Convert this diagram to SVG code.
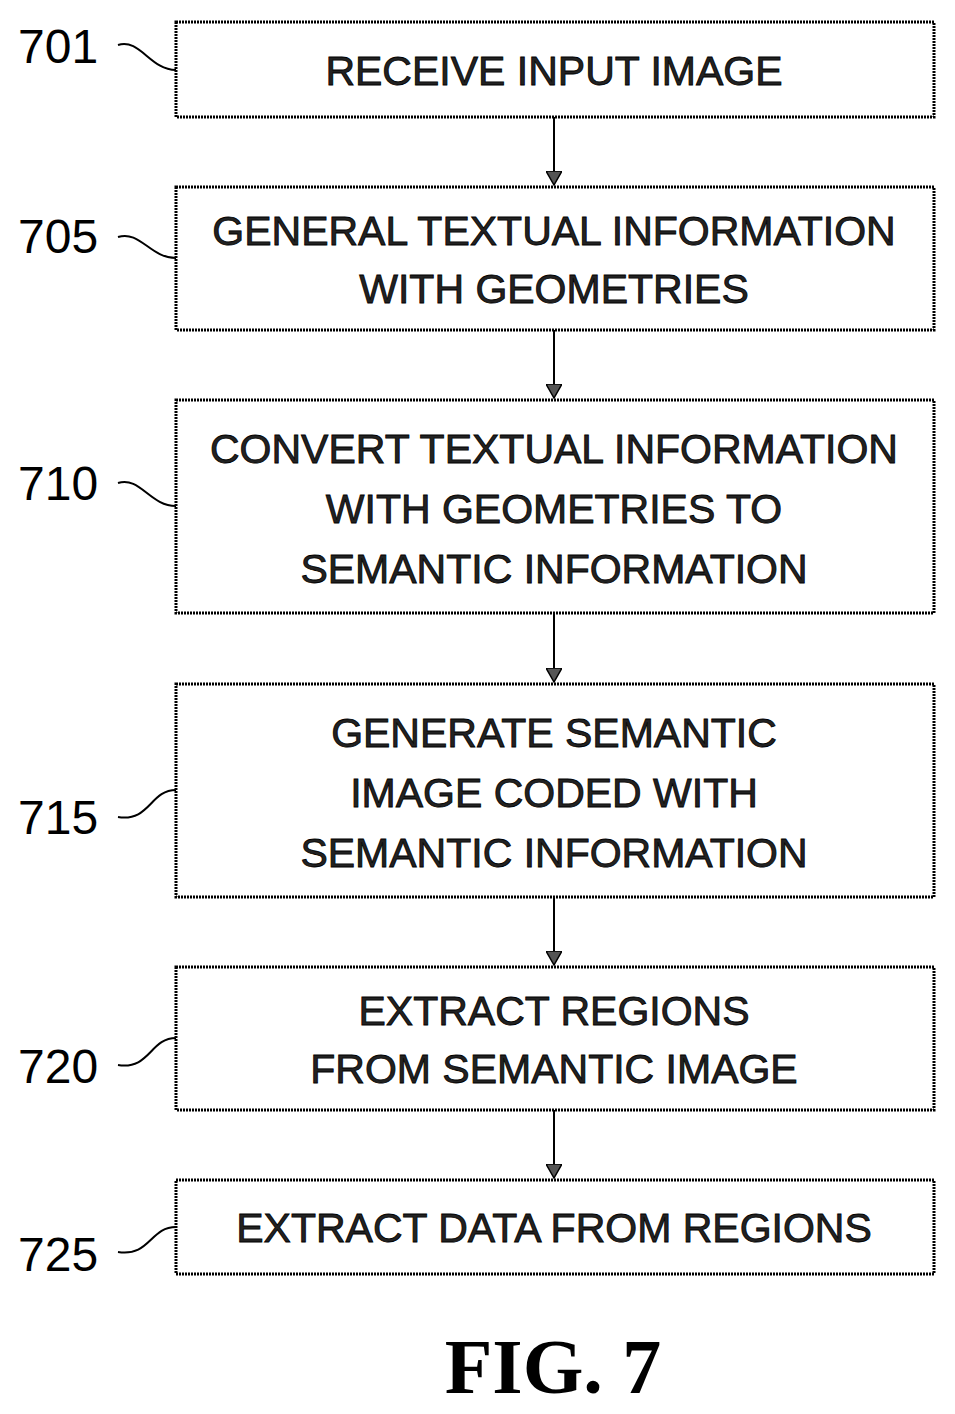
<svg xmlns="http://www.w3.org/2000/svg" width="955" height="1414" viewBox="0 0 955 1414">
<style>
.b{fill:#fff;stroke:#000;stroke-width:3;stroke-dasharray:2 1}
.t{font-family:"Liberation Sans",Arial,sans-serif;font-size:41px;fill:#222;stroke:#000;stroke-width:0.8;text-anchor:middle}
.n{font-family:"Liberation Sans",Arial,sans-serif;font-size:48px;fill:#000;text-anchor:start}
.c{fill:none;stroke:#000;stroke-width:2}
</style>
<defs><marker id="a" markerWidth="16" markerHeight="16" refX="14" refY="8" orient="auto" markerUnits="userSpaceOnUse"><path d="M0,0 L14,8 L0,16 Z" fill="#555" stroke="#000" stroke-width="1.5"/></marker></defs>
<rect width="955" height="1414" fill="#fff"/>
<g id="connectors">
<line class="c" x1="554" y1="117" x2="554" y2="185" marker-end="url(#a)"/>
<line class="c" x1="554" y1="330" x2="554" y2="398" marker-end="url(#a)"/>
<line class="c" x1="554" y1="613" x2="554" y2="682" marker-end="url(#a)"/>
<line class="c" x1="554" y1="897" x2="554" y2="965" marker-end="url(#a)"/>
<line class="c" x1="554" y1="1110" x2="554" y2="1178" marker-end="url(#a)"/>
<path class="c" d="M118,45 C140,38 150,70 176,70"/>
<path class="c" d="M118,237 C140,230 150,258 176,258"/>
<path class="c" d="M118,483 C140,476 150,506 176,506"/>
<path class="c" d="M118,817 C150,822 150,790 176,790"/>
<path class="c" d="M118,1065 C150,1070 150,1038 176,1038"/>
<path class="c" d="M118,1252 C150,1257 150,1227 176,1227"/>
</g>
<g id="n701"><rect class="b" x="176" y="22" width="758" height="95"/><text class="t" x="554" y="85">RECEIVE INPUT IMAGE</text><text class="n" x="18" y="63">701</text></g>
<g id="n705"><rect class="b" x="176" y="187" width="758" height="143"/><text class="t" x="554" y="245">GENERAL TEXTUAL INFORMATION</text><text class="t" x="554" y="303">WITH GEOMETRIES</text><text class="n" x="18" y="253">705</text></g>
<g id="n710"><rect class="b" x="176" y="400" width="758" height="213"/><text class="t" x="554" y="463">CONVERT TEXTUAL INFORMATION</text><text class="t" x="554" y="523">WITH GEOMETRIES TO</text><text class="t" x="554" y="583">SEMANTIC INFORMATION</text><text class="n" x="18" y="500">710</text></g>
<g id="n715"><rect class="b" x="176" y="684" width="758" height="213"/><text class="t" x="554" y="747">GENERATE SEMANTIC</text><text class="t" x="554" y="807">IMAGE CODED WITH</text><text class="t" x="554" y="867">SEMANTIC INFORMATION</text><text class="n" x="18" y="834">715</text></g>
<g id="n720"><rect class="b" x="176" y="967" width="758" height="143"/><text class="t" x="554" y="1025">EXTRACT REGIONS</text><text class="t" x="554" y="1083">FROM SEMANTIC IMAGE</text><text class="n" x="18" y="1083">720</text></g>
<g id="n725"><rect class="b" x="176" y="1180" width="758" height="94"/><text class="t" x="554" y="1242">EXTRACT DATA FROM REGIONS</text><text class="n" x="18" y="1271">725</text></g>
<text x="553" y="1393" font-family="Liberation Serif,serif" font-size="78" font-weight="bold" text-anchor="middle">FIG. 7</text>
</svg>
